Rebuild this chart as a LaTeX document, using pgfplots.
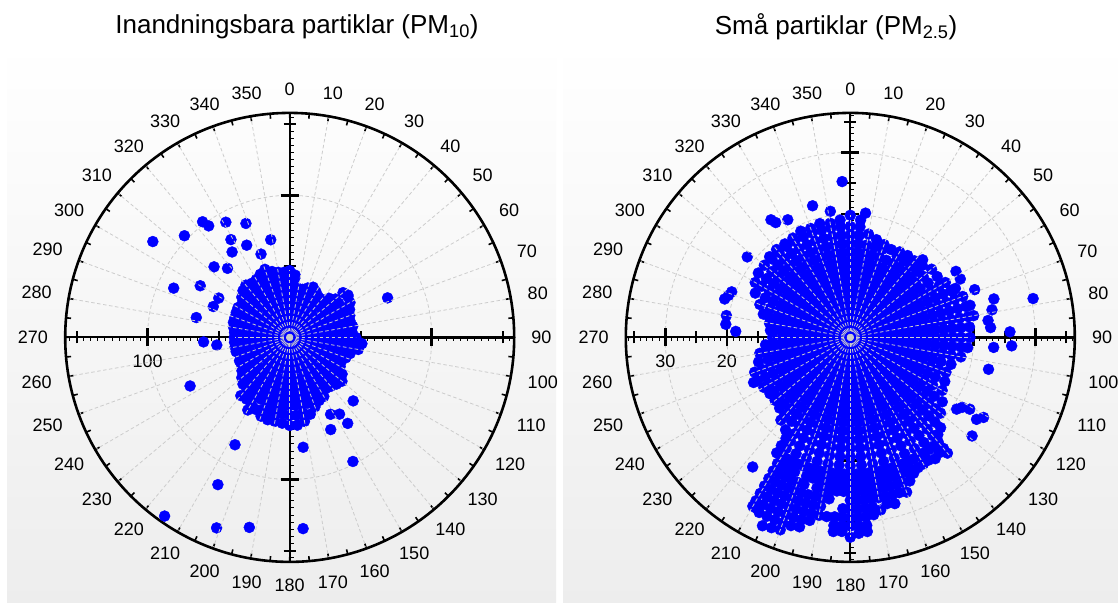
\documentclass[border=0pt]{standalone}
\usepackage{fontspec}
\setmainfont{Liberation Sans}
\usepackage{pgfplots}
\pgfplotsset{compat=1.18}
\usepackage{pgfplotstable}
\usepgfplotslibrary{polar}

% ---- PM10: dense cloud, points along directions (compass deg, value) ----
\pgfplotstableread[row sep=\\]{a r\\
0 30\\0 36\\0 42\\0 47\\5 30\\5 36\\5 42\\5 44\\10 30\\10 35\\15 30\\15 35\\20 30\\20 37\\25 30\\25 36\\25 39\\30 30\\30 37\\35 30\\35 35\\40 30\\40 35\\45 30\\45 36\\45 39\\
50 30\\50 36\\50 42\\50 49\\55 30\\55 36\\55 42\\55 50\\60 30\\60 36\\60 42\\60 49\\65 30\\65 36\\65 42\\65 46.5\\70 30\\70 36\\70 42\\70 45\\75 30\\75 36\\75 42\\75 44\\80 30\\80 36\\80 42\\80 45\\85 30\\85 36\\85 42\\85 44\\
90 30\\90 36\\90 42\\90 46.5\\95 30\\95 36\\95 42\\95 48\\95 51\\100 30\\100 36\\100 42\\100 49\\105 30\\105 36\\105 42\\105 44\\110 30\\110 36\\110 42\\115 30\\115 36\\115 40\\120 30\\120 36\\120 41\\125 30\\125 36\\125 42\\125 45\\
130 30\\130 36\\130 42\\130 48\\135 30\\135 36\\135 42\\135 46.5\\140 30\\140 36\\140 42\\140 45\\145 30\\145 36\\145 42\\145 44\\150 30\\150 36\\150 42\\150 48\\155 30\\155 36\\155 42\\155 49\\160 30\\160 36\\160 42\\160 48\\160 52\\
165 30\\165 36\\165 42\\165 48\\165 56\\170 30\\170 36\\170 42\\170 48\\170 54\\170 60\\175 30\\175 36\\175 42\\175 48\\175 55\\175 62\\180 30\\180 36\\180 42\\180 48\\180 55\\180 62\\185 30\\185 36\\185 42\\185 48\\185 54\\185 60.6\\
190 30\\190 36\\190 42\\190 48\\190 54\\190 60\\195 30\\195 36\\195 42\\195 48\\195 54\\195 60\\200 30\\200 36\\200 42\\200 48\\200 54\\200 59\\205 30\\205 36\\205 42\\205 48\\205 56\\210 30\\210 36\\210 42\\210 48\\210 54\\210 59\\
215 30\\215 36\\215 42\\215 48\\215 53\\220 30\\220 36\\220 42\\220 47\\220 53.5\\225 30\\225 36\\225 42\\225 46.5\\230 30\\230 36\\230 42\\230 44\\235 30\\235 36\\235 41\\240 30\\240 36\\240 39\\245 30\\245 36\\245 39\\250 30\\250 37\\
255 30\\255 36\\255 39\\260 30\\260 36\\260 39\\265 30\\265 36\\265 39\\270 30\\270 36\\270 39\\275 30\\275 36\\275 39\\280 30\\280 36\\280 40\\285 30\\285 36\\285 41\\290 30\\290 36\\290 41\\295 30\\295 36\\295 41.5\\300 30\\300 36\\300 42\\
305 30\\305 36\\305 41\\310 30\\310 36\\310 42\\310 44\\315 30\\315 36\\315 42\\315 46.5\\320 30\\320 36\\320 42\\320 48\\325 30\\325 36\\325 42\\325 46.5\\330 30\\330 36\\330 42\\330 47\\335 30\\335 36\\335 42\\335 49\\
340 30\\340 36\\340 42\\340 48\\340 51\\345 30\\345 36\\345 42\\345 48\\350 30\\350 36\\350 42\\350 46.5\\355 30\\355 36\\355 42\\355 46\\
}\Lspk

\pgfplotstableread[row sep=\\]{a r\\
305 117.6\\314 103\\323 101.9\\324 97\\331 92.7\\339 85.9\\329 80.3\\326 72.5\\335 71.6\\349 70\\341 62\\313 72.8\\318 65.4\\293 88.7\\300 72.7\\299 57.1\\292 58\\282 67.2\\267 60.7\\264 51.6\\244 78\\
207 84.8\\206 115.3\\215 153.5\\201 143.6\\192 136.7\\176 134.9\\173 77.9\\153 98\\135 63.2\\152 61.3\\147 64.4\\146 73\\156 71\\68 74.3\\54 50.7\\
}\Lout

% ---- PM2.5 ----
\pgfplotstableread[row sep=\\]{a r\\
0 11\\0 12.4\\0 13.8\\0 15.2\\0 16.6\\0 18\\0 19.8\\
5 11\\5 12.4\\5 13.8\\5 15.2\\5 16.6\\5 18\\5 19.1\\
10 11\\10 12.4\\10 13.8\\10 15.2\\10 17\\
15 11\\15 12.4\\15 13.8\\15 15.2\\15 16.4\\
20 11\\20 12.4\\20 13.8\\20 15.2\\20 16\\
25 11\\25 12.4\\25 13.8\\25 15.7\\
30 11\\30 12.4\\30 13.8\\30 15.2\\30 16\\
35 11\\35 12.4\\35 13.8\\35 15.2\\35 16.2\\
40 11\\40 12.4\\40 13.8\\40 15.2\\40 16.2\\
45 11\\45 12.4\\45 13.8\\45 15.2\\45 16.5\\
50 11\\50 12.4\\50 13.8\\50 15.4\\50 17.2\\
55 11\\55 12.4\\55 13.8\\55 15.4\\55 17.2\\
60 11\\60 12.4\\60 13.8\\60 15.2\\60 16.6\\60 17.8\\
65 11\\65 12.4\\65 13.8\\65 15.2\\65 16.6\\65 18\\65 18.8\\
70 11\\70 12.4\\70 13.8\\70 15.2\\70 16.6\\70 18\\70 19.4\\
75 11\\75 12.4\\75 13.8\\75 15.2\\75 16.6\\75 18\\75 19.4\\75 20.1\\
80 11\\80 12.4\\80 13.8\\80 15.2\\80 16.6\\80 18\\80 19.4\\80 20.3\\
85 11\\85 12.4\\85 13.8\\85 15.2\\85 16.6\\85 18\\85 19.4\\
90 11\\90 12.4\\90 13.8\\90 15.2\\90 16.6\\90 18\\90 19.4\\
95 11\\95 12.4\\95 13.8\\95 15.2\\95 16.6\\95 18\\95 19.1\\
100 11\\100 12.4\\100 13.8\\100 15.2\\100 16.6\\100 18.2\\
105 11\\105 12.4\\105 13.8\\105 15.2\\105 16.9\\
110 11\\110 12.4\\110 13.8\\110 15.2\\110 16.5\\
115 11\\115 12.4\\115 13.8\\115 15.2\\115 16.9\\
120 11\\120 12.4\\120 13.8\\120 15.4\\120 17.2\\
125 11\\125 12.4\\125 13.8\\125 15.2\\125 16.6\\125 18.2\\
130 11\\130 12.4\\130 13.8\\130 15.2\\130 16.6\\130 18\\130 19.1\\
135 11\\135 12.4\\135 13.8\\135 15.2\\135 16.6\\135 18\\135 19.4\\135 20.7\\
140 11\\140 12.4\\140 13.8\\140 15.2\\140 16.6\\140 18\\140 19.4\\140 20.8\\140 22.2\\140 23.5\\
145 11\\145 12.4\\145 13.8\\145 15.2\\145 16.6\\145 18\\145 19.4\\145 20.8\\145 22.2\\145 24\\
150 11\\150 12.4\\150 13.8\\150 15.2\\150 16.6\\150 18\\150 19.4\\150 20.8\\150 22.2\\150 23.7\\
155 11\\155 12.4\\155 13.8\\155 15.2\\155 16.6\\155 18\\155 19.4\\155 20.8\\155 22.2\\155 23.6\\155 24.3\\
160 11\\160 12.4\\160 13.8\\160 15.2\\160 16.6\\160 18\\160 19.4\\160 20.8\\160 22.2\\160 23.6\\160 25\\160 26.7\\
165 11\\165 12.4\\165 13.8\\165 15.2\\165 16.6\\165 18\\165 19.4\\165 20.8\\165 22.2\\165 23.6\\165 25\\165 26.4\\165 27.9\\
170 11\\170 12.4\\170 13.8\\170 15.2\\170 16.6\\170 18\\170 19.4\\170 20.8\\170 22.2\\170 23.6\\170 25\\170 26.4\\170 28.4\\
175 11\\175 12.4\\175 13.8\\175 15.2\\175 16.6\\175 18\\175 19.4\\175 20.8\\175 22.2\\175 23.6\\175 25\\175 26.4\\175 27.8\\175 29.2\\175 30.6\\175 31.6\\
180 11\\180 12.4\\180 13.8\\180 15.2\\180 16.6\\180 18\\180 19.4\\180 20.8\\180 22.2\\180 23.6\\180 25\\180 26.4\\180 27.8\\180 29.2\\180 30.6\\180 32.4\\
185 11\\185 12.4\\185 13.8\\185 15.2\\185 16.6\\185 18\\185 19.4\\185 20.8\\185 22.2\\185 23.6\\185 25\\185 29.2\\185 30.6\\185 31.6\\
190 11\\190 12.4\\190 13.8\\190 15.2\\190 16.6\\190 18\\190 19.4\\190 20.8\\190 22.2\\190 23.6\\190 25\\190 26.4\\190 27.8\\190 29.3\\
195 11\\195 12.4\\195 13.8\\195 15.2\\195 16.6\\195 18\\195 19.4\\195 20.8\\195 22.2\\195 23.6\\195 26.4\\195 27.8\\195 29.2\\195 30.6\\195 31.8\\
200 11\\200 12.4\\200 13.8\\200 15.2\\200 16.6\\200 18\\200 19.4\\200 20.8\\200 22.2\\200 25\\200 26.4\\200 27.8\\200 29.2\\200 30.6\\200 32\\200 33.2\\
205 11\\205 12.4\\205 13.8\\205 15.2\\205 16.6\\205 18\\205 19.4\\205 20.8\\205 22.2\\205 23.6\\205 25\\205 26.4\\205 27.8\\205 29.2\\205 30.6\\205 32\\205 33.7\\
210 11\\210 12.4\\210 13.8\\210 15.2\\210 16.6\\210 18\\210 19.4\\210 20.8\\210 22.2\\210 23.6\\210 25\\210 26.4\\210 27.8\\210 29.2\\210 30.6\\210 31.6\\
215 11\\215 12.4\\215 13.8\\215 15.2\\215 16.6\\215 18.3\\
220 11\\220 12.4\\220 13.8\\220 15.2\\220 16.6\\220 17.5\\
225 11\\225 12.4\\225 13.8\\225 15.2\\225 16.2\\
230 11\\230 12.4\\230 13.8\\230 15.2\\230 15.9\\
235 11\\235 12.4\\235 13.8\\235 15.2\\235 15.9\\
240 11\\240 12.4\\240 13.8\\240 15.2\\240 16.2\\
245 11\\245 12.4\\245 13.8\\245 15.2\\245 16.6\\245 17.3\\
250 11\\250 12.4\\250 13.8\\250 15.2\\250 16.5\\
255 11\\255 12.4\\255 13.8\\255 15.4\\
260 11\\260 12.4\\260 13.8\\260 14.9\\
265 11\\265 12.4\\265 13.8\\
270 11\\270 12.6\\
275 11\\275 12.4\\275 13\\
280 11\\280 12.4\\280 13.3\\
285 11\\285 12.4\\285 13.8\\285 14.6\\
290 11\\290 12.4\\290 13.8\\290 15.6\\
295 11\\295 12.4\\295 13.8\\295 15.2\\295 17\\
300 11\\300 12.4\\300 13.8\\300 15.2\\300 16.6\\300 17.8\\
305 11\\305 12.4\\305 13.8\\305 15.2\\305 16.6\\305 18.2\\
310 11\\310 12.4\\310 13.8\\310 15.2\\310 16.6\\310 18.2\\
315 11\\315 12.4\\315 13.8\\315 15.2\\315 16.6\\315 18\\315 18.5\\
320 11\\320 12.4\\320 13.8\\320 15.2\\320 16.6\\320 18\\320 18.6\\
325 11\\325 12.4\\325 13.8\\325 15.2\\325 16.6\\325 18\\325 18.5\\
330 11\\330 12.4\\330 13.8\\330 15.2\\330 16.6\\330 18\\330 18.6\\
335 11\\335 12.4\\335 13.8\\335 15.2\\335 16.6\\335 18\\335 19\\
340 11\\340 12.4\\340 13.8\\340 15.2\\340 16.6\\340 18\\340 18.8\\
345 11\\345 12.4\\345 13.8\\345 15.2\\345 16.6\\345 18\\345 19.1\\
350 11\\350 12.4\\350 13.8\\350 15.2\\350 16.6\\350 18\\350 18.8\\
355 11\\355 12.4\\355 13.8\\355 15.2\\355 16.6\\355 18\\355 19.1\\
142.5 22.2\\142.5 23.6\\147.5 22.2\\147.5 23.6\\152.5 22.2\\152.5 23.8\\157.5 22.2\\157.5 23.6\\157.5 25.2\\
162.5 22.2\\162.5 23.6\\162.5 25\\162.5 26.4\\167.5 22.2\\167.5 23.6\\167.5 25\\167.5 26.4\\167.5 27.6\\
172.5 22.2\\172.5 23.6\\172.5 25\\172.5 26.4\\172.5 27.8\\172.5 29\\
177.5 22.2\\177.5 23.6\\177.5 25\\177.5 26.4\\177.5 27.8\\177.5 29.2\\177.5 30.6\\177.5 31.8\\
182.5 22.2\\182.5 23.6\\182.5 25\\182.5 27.8\\182.5 29.2\\182.5 30.6\\182.5 31.5\\
187.5 22.2\\187.5 23.6\\187.5 25\\187.5 26.4\\187.5 29.3\\
192.5 22.2\\192.5 23.6\\192.5 25\\192.5 26.4\\192.5 27.8\\192.5 29.2\\192.5 30.4\\
197.5 22.2\\197.5 23.6\\197.5 25\\197.5 26.4\\197.5 27.8\\197.5 29.2\\197.5 30.6\\197.5 32\\
202.5 22.2\\202.5 23.6\\202.5 25\\202.5 26.4\\202.5 27.8\\202.5 29.2\\202.5 30.6\\202.5 32\\202.5 33.4\\
207.5 22.2\\207.5 23.6\\207.5 25\\207.5 26.4\\207.5 27.8\\207.5 29.2\\207.5 30.6\\207.5 32\\
212.5 19.4\\212.5 20.8\\212.5 22.2\\
}\Rspk

\pgfplotstableread[row sep=\\]{a r\\
357 25.3\\344 22.2\\326 23\\327 22.2\\332 21.6\\308 21.2\\289 20.9\\291 20.6\\287 21.3\\280 20.4\\276 20.3\\273 18.6\\217 26.3\\209 31.6\\
124 20.8\\121 22.6\\122 21.4\\123 24.4\\121 25.2\\129 25.4\\138 21.2\\140 24.5\\103 23\\94 23.3\\93 26.2\\88 25.9\\86 22.8\\79 23.4\\83 22.5\\75 24.1\\78 30.3\\
58 20.2\\62 20.2\\69 21.6\\66 18.2\\43 17.2\\7 20.3\\351 20.7\\
}\Rout

\newcommand\tickfont{\fontsize{18}{20}\selectfont}

\tikzset{gridline/.style={black!20, line width=0.8pt, dash pattern=on 3.5pt off 2.5pt}}

\pgfplotsset{
  compassdots/.style={only marks, mark=*, color=blue, mark size=5.5pt},
  compass/.style={
    width=449pt, height=449pt, scale only axis, anchor=center,
    xmin=0, xmax=360,
    xtick={0,10,...,350}, minor xtick={5,15,...,355},
    xticklabel=\empty, yticklabel=\empty,
    xticklabel style={opacity=0}, yticklabel style={opacity=0},
    tick align=outside, major tick length=5pt, minor tick length=5pt,
    tick style={black, line width=1.6pt},
    ytick style={draw=none},
    axis line style={black, line width=2.6pt},
    xmajorgrids=false, ymajorgrids=false,
    axis on top, clip=false,
  }
}

\begin{document}
\begin{tikzpicture}[x=1pt,y=1pt]
\useasboundingbox (0,0) rectangle (1118,602);
\fill[white] (0,0) rectangle (1118,602);
\shade[top color=white, bottom color=black!7] (7,0) rectangle (556,560);
\shade[top color=white, bottom color=black!7] (563,0) rectangle (1118,560);

% titles
\node[font=\fontsize{26}{30}\selectfont] at (297,575) {Inandningsbara partiklar (PM\textsubscript{10})};
\node[font=\fontsize{26}{30}\selectfont] at (836,575) {Små partiklar (PM\textsubscript{2.5})};

% ---------- left radial cross and circle grid ----------
\begin{scope}[shift={(289.7,264.6)}]
  \draw[gridline] (0,0) circle[radius=142.09];
  \draw[line width=2pt] (-224,0) -- (224,0) (0,-224) -- (0,224);
  \foreach \r in {5,10,...,155}{
    \draw[line width=1pt] ({\r*1.4209},0) -- ++(0,-4) ({-\r*1.4209},0) -- ++(0,-4)
      (0,{\r*1.4209}) -- ++(4,0) (0,{-\r*1.4209}) -- ++(4,0);
  }
  \foreach \r in {50,150}{
    \draw[line width=2pt] ({\r*1.4209},-6) -- ++(0,12) ({-\r*1.4209},-6) -- ++(0,12)
      (-6,{\r*1.4209}) -- ++(12,0) (-6,{-\r*1.4209}) -- ++(12,0);
  }
  \draw[line width=2.6pt] (142.09,-9) -- ++(0,18) (-142.09,-9) -- ++(0,18)
      (-9,142.09) -- ++(18,0) (-9,-142.09) -- ++(18,0);
  \node[font=\tickfont] at (-142.1,-23.6) {100};
\end{scope}

% ---------- right radial cross and circle grid ----------
\begin{scope}[shift={(850.3,264.6)}]
  \draw[gridline] (0,0) circle[radius=61.68] (0,0) circle[radius=123.35] (0,0) circle[radius=185.03];
  \draw[line width=2pt] (-224,0) -- (224,0) (0,-224) -- (0,224);
  \foreach \r in {1,...,36}{
    \draw[line width=1pt] ({\r*6.1676},0) -- ++(0,-4) ({-\r*6.1676},0) -- ++(0,-4)
      (0,{\r*6.1676}) -- ++(4,0) (0,{-\r*6.1676}) -- ++(4,0);
  }
  \foreach \r in {5,15,25,35}{
    \draw[line width=2pt] ({\r*6.1676},-6) -- ++(0,12) ({-\r*6.1676},-6) -- ++(0,12)
      (-6,{\r*6.1676}) -- ++(12,0) (-6,{-\r*6.1676}) -- ++(12,0);
  }
  \foreach \r in {10,20,30}{
    \draw[line width=2.6pt] ({\r*6.1676},-9) -- ++(0,18) ({-\r*6.1676},-9) -- ++(0,18)
      (-9,{\r*6.1676}) -- ++(18,0) (-9,{-\r*6.1676}) -- ++(18,0);
  }
  \node[font=\tickfont] at (-185.0,-23.6) {30};
  \node[font=\tickfont] at (-123.4,-23.6) {20};
\end{scope}

% ---------- left polar axis ----------
\begin{polaraxis}[compass, at={(289.7pt,264.6pt)}, ymin=0, ymax=158, ytick={100}]
  \addplot[only marks, mark=*, color=blue, mark size=10.5pt, data cs=cart] coordinates {
    (0,0) (12,0) (-12,0) (24,0) (-24,0)
    (6,10.4) (-6,10.4) (18,10.4) (-18,10.4) (6,-10.4) (-6,-10.4) (18,-10.4) (-18,-10.4)
    (0,20.8) (12,20.8) (-12,20.8) (0,-20.8) (12,-20.8) (-12,-20.8)};
  \addplot[compassdots] table[x expr=90-\thisrow{a}, y=r] {\Lspk};
  \addplot[compassdots] table[x expr=90-\thisrow{a}, y=r] {\Lout};
\end{polaraxis}

% ---------- right polar axis ----------
\begin{polaraxis}[compass, at={(850.3pt,264.6pt)}, ymin=0, ymax=36.4, ytick={10,20,30}]
  \addplot[only marks, mark=*, color=blue, mark size=11.5pt, data cs=cart] coordinates {
    (-9,0) (-6,0) (-3,0) (0,0) (3,0) (6,0) (9,0)
    (-10.5,2.6) (-7.5,2.6) (-4.5,2.6) (-1.5,2.6) (1.5,2.6) (4.5,2.6) (7.5,2.6) (10.5,2.6)
    (-10.5,-2.6) (-7.5,-2.6) (-4.5,-2.6) (-1.5,-2.6) (1.5,-2.6) (4.5,-2.6) (7.5,-2.6) (10.5,-2.6)
    (-9,5.2) (-6,5.2) (-3,5.2) (0,5.2) (3,5.2) (6,5.2) (9,5.2)
    (-9,-5.2) (-6,-5.2) (-3,-5.2) (0,-5.2) (3,-5.2) (6,-5.2) (9,-5.2)
    (-7.5,7.8) (-4.5,7.8) (-1.5,7.8) (1.5,7.8) (4.5,7.8) (7.5,7.8)
    (-7.5,-7.8) (-4.5,-7.8) (-1.5,-7.8) (1.5,-7.8) (4.5,-7.8) (7.5,-7.8)
    (-3,10.4) (0,10.4) (3,10.4) (-3,-10.4) (0,-10.4) (3,-10.4)};
  \addplot[compassdots] table[x expr=90-\thisrow{a}, y=r] {\Rspk};
  \addplot[compassdots] table[x expr=90-\thisrow{a}, y=r] {\Rout};
\end{polaraxis}

% ---------- dashed radial grid, drawn over the points ----------
\begin{scope}[shift={(289.7,264.6)}]
  \foreach \a in {10,20,...,80,100,110,...,170,190,200,...,260,280,290,...,350}
    \draw[gridline] (0,0) -- (\a:223);
  \draw[gridline] (0,0) -- (0,67) (0,0) -- (66,0) (0,0) -- (0,-88) (0,0) -- (-55,0);
\end{scope}
\begin{scope}[shift={(850.3,264.6)}]
  \foreach \a in {10,20,...,80,100,110,...,170,190,200,...,260,280,290,...,350}
    \draw[gridline] (0,0) -- (\a:223);
  \draw[gridline] (0,0) -- (0,122) (0,0) -- (120,0) (0,0) -- (0,-200) (0,0) -- (-78,0);
\end{scope}

% ---------- compass labels ----------
\foreach \cx in {289.7,850.3}{
  \begin{scope}[shift={(\cx,264.6)}]
    \foreach \c in {0,10,...,350}{
      \pgfmathtruncatemacro\t{90-\c}
      \pgfmathtruncatemacro\an{mod(630-\c,360)}
      \node[font=\tickfont, inner sep=0pt, anchor=\an] at (\t:241.5) {\c};
    }
  \end{scope}
}
\end{tikzpicture}
\end{document}
